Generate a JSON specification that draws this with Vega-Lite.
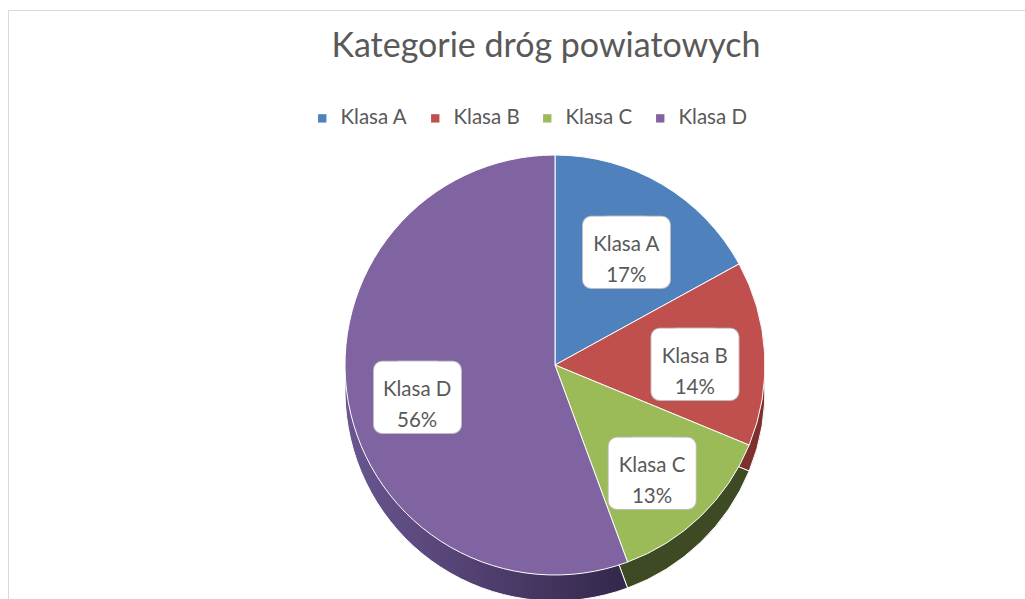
{
  "$schema": "https://vega.github.io/schema/vega-lite/v6.json",
  "width": 1094,
  "height": 710,
  "autosize": {"type": "none"},
  "padding": {"left": 8, "top": 10, "right": 0, "bottom": 0},
  "background": "white",
  "view": {"stroke": "#d9d9d9", "strokeWidth": 1},
  "config": {"view": {"stroke": "#d9d9d9", "strokeWidth": 1}, "font": "Lato"},
  "title": {"text": "Kategorie dróg powiatowych", "fontSize": 34, "font": "Lato", "fontWeight": "normal", "color": "#595959", "offset": -54, "anchor": "middle", "dx": -9},
  "data": {
    "values": [
      {"category": "Klasa A", "value": 83000, "lbl": "Klasa A\n17%"},
      {"category": "Klasa B", "value": 69400, "lbl": "Klasa B\n14%"},
      {"category": "Klasa C", "value": 64220, "lbl": "Klasa C\n13%"},
      {"category": "Klasa D", "value": 271425, "lbl": "Klasa D\n56%"}
    ]
  },
  "resolve": {"scale": {"color": "independent"}, "legend": {"color": "independent"}},
  "layer": [
    {
      "mark": {"type": "arc", "outerRadius": 210, "yOffset": 9},
      "encoding": {
        "theta": {"field": "value", "type": "quantitative", "stack": true},
        "order": {"field": "category", "type": "ordinal"},
        "color": {
          "condition": {"test": "datum.category === 'Klasa D'", "value": {"gradient": "linear", "x1": 0, "y1": 0, "x2": 1, "y2": 0, "stops": [{"offset": 0, "color": "#6b5691"}, {"offset": 1, "color": "#33274a"}]}},
          "field": "category", "type": "nominal", "scale": {"domain": ["Klasa A", "Klasa B", "Klasa C", "Klasa D"], "range": ["#36587f", "#7e302e", "#3e4a24", "#4c3b63"]}, "legend": null}
      }
    },
    {
      "mark": {"type": "arc", "outerRadius": 210, "yOffset": 18},
      "encoding": {
        "theta": {"field": "value", "type": "quantitative", "stack": true},
        "order": {"field": "category", "type": "ordinal"},
        "color": {
          "condition": {"test": "datum.category === 'Klasa D'", "value": {"gradient": "linear", "x1": 0, "y1": 0, "x2": 1, "y2": 0, "stops": [{"offset": 0, "color": "#6b5691"}, {"offset": 1, "color": "#33274a"}]}},
          "field": "category", "type": "nominal", "scale": {"domain": ["Klasa A", "Klasa B", "Klasa C", "Klasa D"], "range": ["#36587f", "#7e302e", "#3e4a24", "#4c3b63"]}, "legend": null}
      }
    },
    {
      "mark": {"type": "arc", "outerRadius": 210, "yOffset": 26, "stroke": "white", "strokeWidth": 1},
      "encoding": {
        "theta": {"field": "value", "type": "quantitative", "stack": true},
        "order": {"field": "category", "type": "ordinal"},
        "color": {
          "condition": {"test": "datum.category === 'Klasa D'", "value": {"gradient": "linear", "x1": 0, "y1": 0, "x2": 1, "y2": 0, "stops": [{"offset": 0, "color": "#6b5691"}, {"offset": 1, "color": "#33274a"}]}},
          "field": "category", "type": "nominal", "scale": {"domain": ["Klasa A", "Klasa B", "Klasa C", "Klasa D"], "range": ["#36587f", "#7e302e", "#3e4a24", "#4c3b63"]}, "legend": null}
      }
    },
    {
      "mark": {"type": "arc", "outerRadius": 210, "stroke": "white", "strokeWidth": 1},
      "encoding": {
        "theta": {"field": "value", "type": "quantitative", "stack": true},
        "order": {"field": "category", "type": "ordinal"},
        "color": {
          "field": "category", "type": "nominal",
          "scale": {"domain": ["Klasa A", "Klasa B", "Klasa C", "Klasa D"], "range": ["#4f81bd", "#c0504d", "#9bbb59", "#8064a2"]},
          "legend": {"orient": "none", "legendX": 304, "legendY": 98, "direction": "horizontal", "title": null, "symbolType": "square", "symbolSize": 70, "symbolStrokeWidth": 0, "labelFontSize": 20.5, "labelColor": "#595959", "labelFont": "Lato", "columnPadding": 17, "labelOffset": 8}
        }
      }
    },
    {
      "mark": {"type": "text", "radius": 140, "text": "■", "font": "DejaVu Sans", "fontSize": 72, "fill": "#bfbfbf", "stroke": "#bfbfbf", "strokeWidth": 18, "strokeJoin": "round", "baseline": "middle", "align": "center", "dx": -8, "dy": 4},
      "encoding": {
        "theta": {"field": "value", "type": "quantitative", "stack": true},
        "order": {"field": "category", "type": "ordinal"}
      }
    },
    {
      "mark": {"type": "text", "radius": 140, "text": "■", "font": "DejaVu Sans", "fontSize": 72, "fill": "#bfbfbf", "stroke": "#bfbfbf", "strokeWidth": 18, "strokeJoin": "round", "baseline": "middle", "align": "center", "dx": 8, "dy": 4},
      "encoding": {
        "theta": {"field": "value", "type": "quantitative", "stack": true},
        "order": {"field": "category", "type": "ordinal"}
      }
    },
    {
      "mark": {"type": "text", "radius": 140, "text": "■", "font": "DejaVu Sans", "fontSize": 72, "fill": "white", "stroke": "white", "strokeWidth": 16, "strokeJoin": "round", "baseline": "middle", "align": "center", "dx": -8, "dy": 4},
      "encoding": {
        "theta": {"field": "value", "type": "quantitative", "stack": true},
        "order": {"field": "category", "type": "ordinal"}
      }
    },
    {
      "mark": {"type": "text", "radius": 140, "text": "■", "font": "DejaVu Sans", "fontSize": 72, "fill": "white", "stroke": "white", "strokeWidth": 16, "strokeJoin": "round", "baseline": "middle", "align": "center", "dx": 8, "dy": 4},
      "encoding": {
        "theta": {"field": "value", "type": "quantitative", "stack": true},
        "order": {"field": "category", "type": "ordinal"}
      }
    },
    {
      "mark": {"type": "text", "radius": 140, "fontSize": 20.5, "font": "Lato", "fill": "#595959", "lineBreak": "\n", "lineHeight": 31, "baseline": "middle", "align": "center"},
      "encoding": {
        "theta": {"field": "value", "type": "quantitative", "stack": true},
        "order": {"field": "category", "type": "ordinal"},
        "text": {"field": "lbl"}
      }
    }
  ]
}
